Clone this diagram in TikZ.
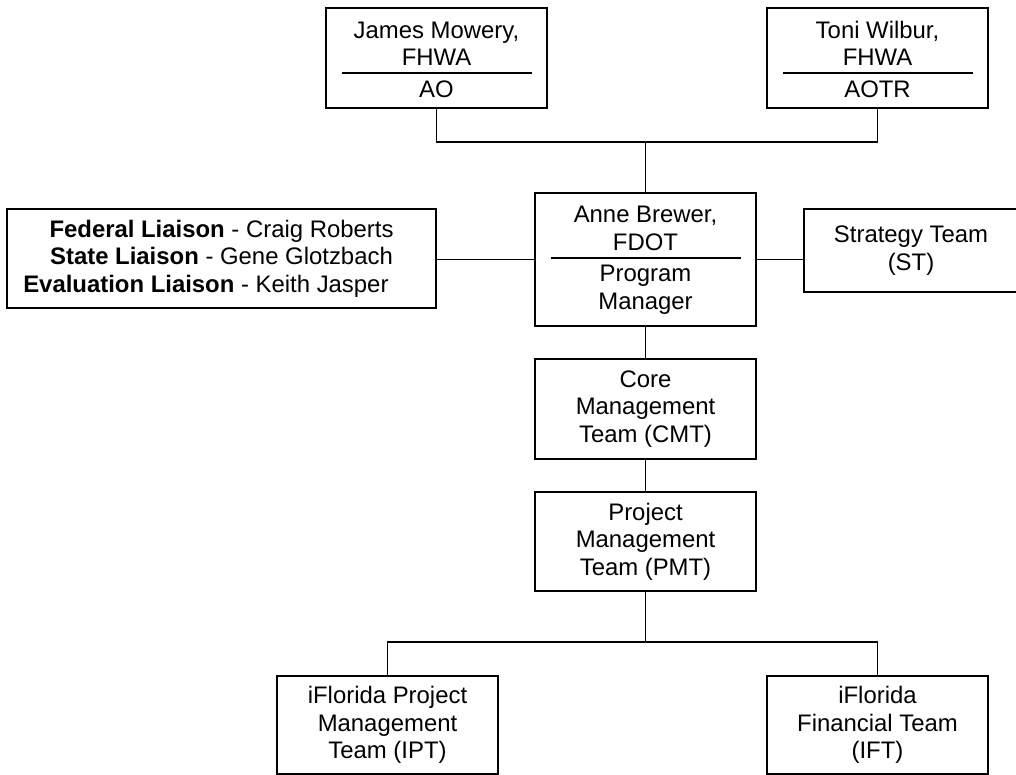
\documentclass[tikz,border=0pt]{standalone}
\usepackage{fontspec}
\setmainfont{Liberation Sans}

\pgfmathsetmacro{\boxw}{5.525}

\begin{document}
\begin{tikzpicture}[
    box/.style={draw, line width=1.3pt, minimum width=\boxw cm, inner sep=0pt, align=center, font=\fontsize{17}{19.6}\selectfont},
    txt/.style={inner sep=0pt, align=center, font=\fontsize{17}{19.6}\selectfont},
    link/.style={line width=1.3pt}]
    \useasboundingbox (0,0) rectangle (25.4,19.375);

    % top row
    \node[box, minimum height=2.5cm] (mowery) at (10.9125,17.925) {};
    \coordinate (mdiv) at ([yshift=-0.375cm]mowery.center);
    \draw[link] ([xshift=-2.375cm]mdiv) -- ([xshift=2.375cm]mdiv);
    \node[txt, anchor=south] (mname) at ([yshift=0.175cm]mdiv) {James Mowery,\\FHWA};
    \node[txt, anchor=north] (mrole) at ([yshift=-0.2cm]mdiv) {AO};

    \node[box, minimum height=2.5cm] (wilbur) at (21.9375,17.925) {};
    \coordinate (wdiv) at ([yshift=-0.375cm]wilbur.center);
    \draw[link] ([xshift=-2.375cm]wdiv) -- ([xshift=2.375cm]wdiv);
    \node[txt, anchor=south] (wname) at ([yshift=0.175cm]wdiv) {Toni Wilbur,\\FHWA};
    \node[txt, anchor=north] (wrole) at ([yshift=-0.2cm]wdiv) {AOTR};

    % program manager row
    \node[box, minimum height=3.325cm] (brewer) at (16.1375,12.8875) {};
    \coordinate (bdiv) at ([yshift=0.0375cm]brewer.center);
    \draw[link] ([xshift=-2.375cm]bdiv) -- ([xshift=2.375cm]bdiv);
    \node[txt, anchor=south] (bname) at ([yshift=0.175cm]bdiv) {Anne Brewer,\\FDOT};
    \node[txt, anchor=north] (brole) at ([yshift=-0.17cm]bdiv) {Program\\Manager};

    \node[box, minimum width=10.725cm, minimum height=2.475cm] (liaison) at (5.5375,12.9125)
        {\textbf{Federal Liaison} - Craig Roberts\\
         \textbf{State Liaison} - Gene Glotzbach\\
         \textbf{Evaluation Liaison} - Keith Jasper\hspace*{0.78cm}};
    \node[box, minimum width=5.35cm, minimum height=2.075cm] (strategy) at (22.775,13.1125)
        {Strategy Team\\(ST)};

    % teams
    \node[box, minimum height=2.5cm] (cmt) at (16.1375,9.15) {Core\\Management\\Team (CMT)};
    \node[box, minimum height=2.475cm] (pmt) at (16.1375,5.8375) {Project\\Management\\Team (PMT)};
    \node[box, minimum height=2.45cm] (ipt) at (9.6875,1.25) {iFlorida Project\\Management\\Team (IPT)};
    \node[box, minimum height=2.45cm] (ift) at (21.9375,1.25) {iFlorida\\Financial Team\\(IFT)};

    % connectors
    \coordinate (topfork) at (brewer.north |- 0,15.825);
    \coordinate (botfork) at (pmt.south |- 0,3.325);
    \draw[link] (mowery.south) |- (topfork) -| (wilbur.south);
    \draw[link] (topfork) -- (brewer.north);
    \draw[link] (liaison.east |- brewer.west) -- (brewer.west);
    \draw[link] (brewer.east) -- (strategy.west |- brewer.east);
    \draw[link] (brewer.south) -- (cmt.north);
    \draw[link] (cmt.south) -- (pmt.north);
    \draw[link] (pmt.south) -- (botfork);
    \draw[link] (ipt.north) |- (botfork) -| (ift.north);
\end{tikzpicture}
\end{document}
